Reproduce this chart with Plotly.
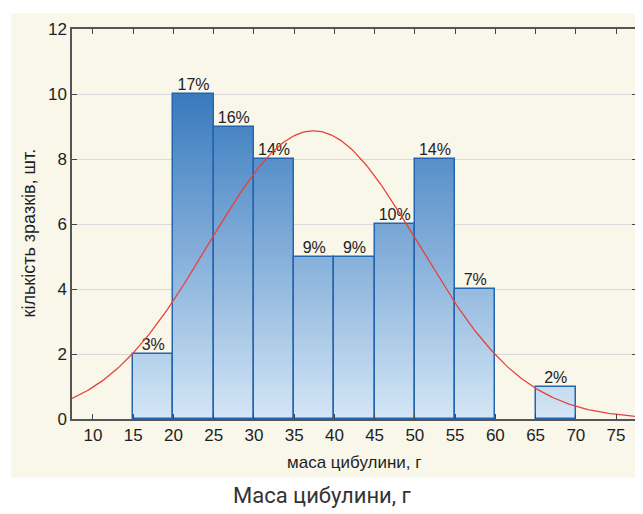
import numpy as np
import plotly.graph_objects as go

# ---- data ----
bin_left = [15, 20, 25, 30, 35, 40, 45, 50, 55, 60, 65]
bin_width = 5
counts = [2, 10, 9, 8, 5, 5, 6, 8, 4, 0, 1]
pct_labels = ["3%", "17%", "16%", "14%", "9%", "9%", "10%", "14%", "7%", "", "2%"]
x_ticks = [10, 15, 20, 25, 30, 35, 40, 45, 50, 55, 60, 65, 70, 75]
y_ticks = [0, 2, 4, 6, 8, 10, 12]
fit_mean = 37.4
fit_sd = 13.05

centers = [l + bin_width / 2 for l in bin_left]
n_total = sum(counts)

W, H = 643, 514
OFF = 8  # page body margin
# plot area in page pixels: left 72, right 639, top 20, bottom 419
L = 72 - OFF
T = 20 - OFF
R = W - (639 - OFF)
B = H - (419 - OFF)
x_range = [7.4, 77.6]

fig = go.Figure()

# gradient fill: horizontal slices coloured by absolute height
top_rgb = np.array([56, 122, 190])
bot_rgb = np.array([212, 230, 246])
dy = 0.1
nslices = int(round(max(counts) / dy))
for k in range(nslices):
    lo = k * dy
    hs = [max(0.0, min(dy, c - lo)) for c in counts]
    t = min(1.0, (lo + dy / 2) / 10.0)
    rgb = bot_rgb + (top_rgb - bot_rgb) * t
    col = "rgb(%d,%d,%d)" % tuple(rgb.round().astype(int))
    fig.add_trace(go.Bar(
        x=centers, y=hs, base=[lo] * len(counts), width=bin_width,
        marker=dict(color=col, line=dict(width=0)),
        hoverinfo="skip", showlegend=False,
    ))

# bar outlines (empty bins have no outline)
fig.add_trace(go.Bar(
    x=[c for c, v in zip(centers, counts) if v > 0],
    y=[v for v in counts if v > 0], width=bin_width,
    marker=dict(color="rgba(0,0,0,0)", line=dict(color="#2465b0", width=1.5)),
    showlegend=False,
))

lab_font = dict(family="Liberation Sans", size=16, color="#222222")
# percentage labels
fig.add_trace(go.Scatter(
    x=[c for c, v in zip(centers, counts) if v > 0],
    y=[v for v in counts if v > 0],
    text=[p for p, v in zip(pct_labels, counts) if v > 0],
    mode="text", textposition="top center",
    textfont=lab_font,
    showlegend=False, cliponaxis=False,
))

# fitted normal curve (expected counts per bin)
xs = np.linspace(x_range[0], x_range[1], 300)
ys = n_total * bin_width / (fit_sd * np.sqrt(2 * np.pi)) * np.exp(-0.5 * ((xs - fit_mean) / fit_sd) ** 2)
fig.add_trace(go.Scatter(
    x=xs, y=ys, mode="lines",
    line=dict(color="#e8403a", width=1.3),
    showlegend=False, hoverinfo="skip",
))

pw = W - L - R
ph = H - T - B
def px_x(p):  # page x -> paper
    return (p - OFF - L) / pw
def px_y(p):  # page y -> paper
    return (H - B - (p - OFF)) / ph

fig.add_shape(type="rect", xref="paper", yref="paper",
              x0=px_x(11), x1=px_x(660),
              y0=px_y(479), y1=px_y(4),
              fillcolor="#f9f6ea", line=dict(width=0), layer="below")

font = dict(family="Liberation Sans", size=17, color="#1e1e1e")
fig.update_layout(
    width=W, height=H,
    margin=dict(l=L, r=R, t=T, b=B),
    paper_bgcolor="white", plot_bgcolor="white",
    barmode="overlay", bargap=0,
    font=font,
    xaxis=dict(range=x_range, tickvals=x_ticks, ticks="inside", ticklen=5,
               tickcolor="#444", showgrid=False, zeroline=False,
               showline=True, linecolor="#555", linewidth=1.5, mirror="ticks",
               tickfont=font),
    yaxis=dict(range=[0, 12], tickvals=y_ticks, ticks="inside", ticklen=5,
               tickcolor="#444", showgrid=True, gridcolor="#d9d9d9", gridwidth=1,
               zeroline=False, showline=True, linecolor="#555", linewidth=1.5,
               mirror="ticks", tickfont=font),
)

fig.add_annotation(text="маса цибулини, г", xref="paper", yref="paper",
                   x=px_x(356), y=px_y(464), showarrow=False,
                   font=dict(family="Liberation Sans", size=17, color="#1e1e1e"),
                   xanchor="center", yanchor="middle")
fig.add_annotation(text="кількість зразків, шт.", xref="paper", yref="paper",
                   x=px_x(29), y=px_y(229), showarrow=False, textangle=-90,
                   font=dict(family="Liberation Sans", size=18, color="#1e1e1e"),
                   xanchor="center", yanchor="middle")
fig.add_annotation(text="Маса цибулини, г", xref="paper", yref="paper",
                   x=px_x(323), y=px_y(497), showarrow=False,
                   font=dict(family="Roboto", size=22, color="#333333"),
                   xanchor="center", yanchor="middle")

fig.write_html("out.html")
